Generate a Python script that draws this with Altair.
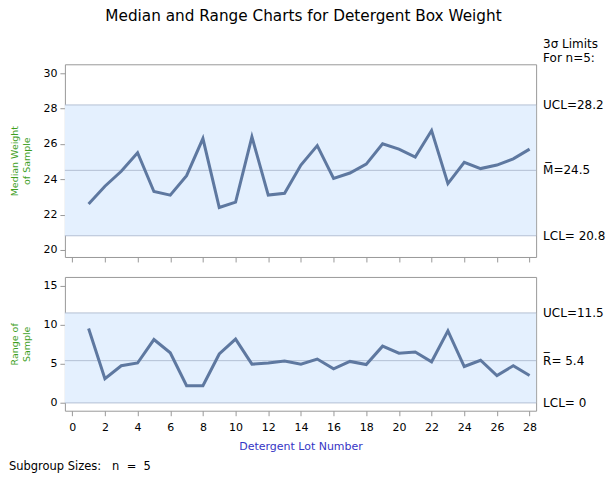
import altair as alt
import pandas as pd

lots = list(range(1, 29))
medians = [22.6, 23.6, 24.45, 25.5, 23.3, 23.1, 24.2, 26.3, 22.4, 22.7, 26.4, 23.1,
           23.2, 24.8, 25.9, 24.05, 24.35, 24.85, 26.0, 25.7, 25.25, 26.75, 23.75, 24.95,
           24.6, 24.8, 25.15, 25.7]
ranges = [9.5, 3.1, 4.75, 5.1, 8.1, 6.4, 2.2, 2.2, 6.25, 8.15, 4.95, 5.1,
          5.35, 4.95, 5.6, 4.35, 5.3, 4.9, 7.25, 6.35, 6.5, 5.25, 9.2, 4.65,
          5.45, 3.5, 4.75, 3.5]

top_limits = [28.2, 24.5, 20.8]
top_labels = ["UCL=28.2", "M\u0305=24.5", "LCL= 20.8"]
bot_limits = [11.5, 5.4, 0.0]
bot_labels = ["UCL=11.5", "R\u0305= 5.4", "LCL= 0"]

top_ticks = [20, 22, 24, 26, 28, 30]
bot_ticks = [0, 5, 10, 15]
x_ticks = list(range(0, 29, 2))

TITLE = "Median and Range Charts for Detergent Box Weight"
FONT = "DejaVu Sans"
LINE = "#5e78a0"
BAND = "#e4f0fe"
LIMIT = "#b4c0d4"
GRAY = "#999999"
GREEN = "#3f9f1f"
BLUE = "#3535c5"

W, H1, H2 = 472, 193, 134

xscale = alt.Scale(domain=[-0.45, 28.4], nice=False, zero=False)
top_scale = alt.Scale(domain=[19.6, 30.5], nice=False, zero=False)
bot_scale = alt.Scale(domain=[-1.0, 16.1], nice=False, zero=False)


def yaxis(values, title):
    return alt.Axis(values=values, title=title, domain=False, grid=False, tickSize=5,
                    tickColor=GRAY, labelColor="black", labelFont=FONT, labelFontSize=11,
                    labelPadding=3, titleColor=GREEN, titleFont=FONT, titleFontSize=9.5,
                    titleFontWeight="normal", titlePadding=11, titleLineHeight=12)


def xaxis(labels):
    if labels:
        return alt.Axis(values=x_ticks, title="Detergent Lot Number", domain=False, grid=False,
                        tickSize=5, tickColor=GRAY, labelColor="black", labelFont=FONT,
                        labelFontSize=11, labelPadding=6, labelAngle=0, titleColor=BLUE,
                        titleFont=FONT, titleFontSize=11, titleFontWeight="normal",
                        titlePadding=8)
    return alt.Axis(values=x_ticks, title=None, domain=False, grid=False, tickSize=5,
                    tickColor=GRAY, labels=False)


def panel(values, limits, labels, yscale, yax, xax, height, extra):
    df = pd.DataFrame({"lot": lots, "v": values})
    lim = pd.DataFrame({"v": limits, "label": labels})
    band = pd.DataFrame({"lo": [limits[2]], "hi": [limits[0]]})
    X = alt.X("lot:Q", scale=xscale, axis=xax)
    rect = alt.Chart(band).mark_rect(color=BAND).encode(
        x=alt.value(0), x2=alt.value(W),
        y=alt.Y("lo:Q", scale=yscale, axis=yax), y2="hi:Q")
    rules = alt.Chart(lim).mark_rule(color=LIMIT, strokeWidth=1).encode(
        x=alt.value(0), x2=alt.value(W),
        y=alt.Y("v:Q", scale=yscale, axis=yax))
    line = alt.Chart(df).mark_line(color=LINE, strokeWidth=3).encode(
        x=X, y=alt.Y("v:Q", scale=yscale, axis=yax))
    txt = alt.Chart(lim).mark_text(align="left", baseline="middle", font=FONT,
                                   fontSize=12, color="black").encode(
        x=alt.value(479), y=alt.Y("v:Q", scale=yscale, axis=yax), text="label:N")
    layers = [rect, rules, line, txt] + extra
    return alt.layer(*layers).properties(width=W, height=height)


def note(text, x, y, size=12, align="left", color="black"):
    return alt.Chart(pd.DataFrame({"t": [text]})).mark_text(
        align=align, baseline="middle", font=FONT, fontSize=size, color=color).encode(
        x=alt.value(x), y=alt.value(y), text="t:N")


top_extra = [
    note(TITLE, 239, -48, size=15.3, align="center"),
    note("3\u03c3 Limits", 479, -20),
    note("For n=5:", 479, -6),
]
bot_extra = [
    note("Subgroup Sizes:\u00a0\u00a0\u00a0n\u00a0\u00a0=\u00a0\u00a05", -56, 190, size=11.5),
]

top = panel(medians, top_limits, top_labels, top_scale,
            yaxis(top_ticks, ["Median Weight", "of Sample"]), xaxis(False), H1, top_extra)
bot = panel(ranges, bot_limits, bot_labels, bot_scale,
            yaxis(bot_ticks, ["Range of", "Sample"]), xaxis(True), H2, bot_extra)

chart = alt.vconcat(top, bot, spacing=13).properties(
    padding={"left": 0, "top": 0, "right": 0, "bottom": 0},
    background="white",
).configure_view(stroke=GRAY, strokeWidth=1)

chart.save("out.html", embed_options={"renderer": "svg", "actions": False})
